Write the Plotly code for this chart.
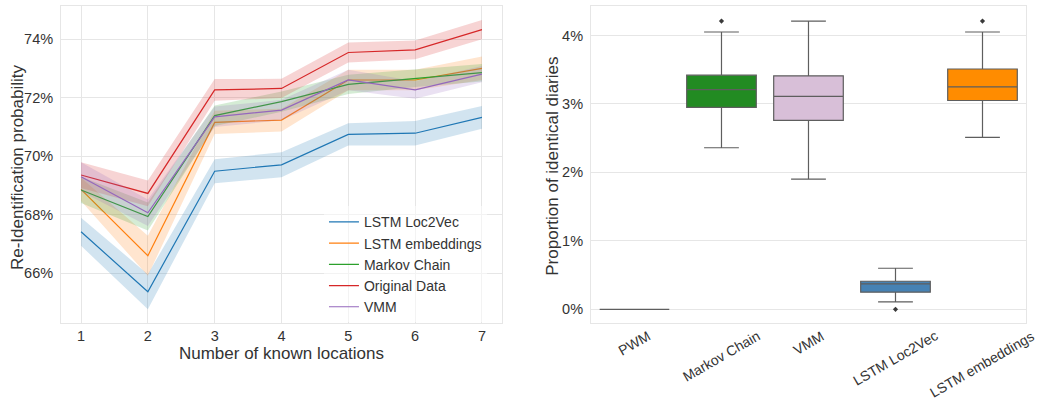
import plotly.graph_objects as go

# ---- left panel: re-identification probability vs. number of known locations ----
known_locations = [1, 2, 3, 4, 5, 6, 7]

series_names = ["LSTM Loc2Vec", "LSTM embeddings", "Markov Chain", "Original Data", "VMM"]
series_colors = ["#1f77b4", "#ff7f0e", "#2ca02c", "#d62728", "#9467bd"]
series_fills = ["rgba(31,119,180,0.2)", "rgba(255,127,14,0.2)", "rgba(44,160,44,0.2)",
                "rgba(214,39,40,0.2)", "rgba(148,103,189,0.2)"]

# mean re-identification probability (%)
loc2vec_mean = [67.42, 65.37, 69.49, 69.71, 70.75, 70.79, 71.33]
embeddings_mean = [68.87, 66.60, 71.16, 71.24, 72.61, 72.61, 73.01]
markov_mean = [68.85, 67.94, 71.39, 71.87, 72.46, 72.67, 72.86]
original_mean = [69.36, 68.73, 72.27, 72.32, 73.55, 73.64, 74.33]
vmm_mean = [69.30, 68.07, 71.35, 71.58, 72.61, 72.27, 72.81]

# half-width of the confidence band (%)
loc2vec_ci = [0.48, 0.60, 0.41, 0.43, 0.38, 0.42, 0.39]
embeddings_ci = [0.40, 0.68, 0.40, 0.39, 0.35, 0.35, 0.40]
markov_ci = [0.45, 0.48, 0.35, 0.35, 0.33, 0.30, 0.30]
original_ci = [0.44, 0.44, 0.37, 0.33, 0.34, 0.32, 0.33]
vmm_ci = [0.50, 0.45, 0.35, 0.35, 0.35, 0.30, 0.28]

series_means = [loc2vec_mean, embeddings_mean, markov_mean, original_mean, vmm_mean]
series_cis = [loc2vec_ci, embeddings_ci, markov_ci, original_ci, vmm_ci]

left_yticks = [66, 68, 70, 72, 74]
left_yticklabels = ["66%", "68%", "70%", "72%", "74%"]

# ---- right panel: proportion of identical diaries per generator ----
generators = ["PWM", "Markov Chain", "VMM", "LSTM Loc2Vec", "LSTM embeddings"]
box_colors = ["#808080", "#228B22", "#D8BFD8", "#4682B4", "#FF8C00"]
box_q1 = [0.0, 2.95, 2.76, 0.25, 3.05]
box_median = [0.0, 3.21, 3.11, 0.37, 3.25]
box_q3 = [0.0, 3.42, 3.41, 0.41, 3.51]
box_low = [0.0, 2.36, 1.90, 0.11, 2.51]
box_high = [0.0, 4.05, 4.21, 0.60, 4.05]
outlier_groups = ["Markov Chain", "LSTM Loc2Vec", "LSTM embeddings"]
outlier_values = [4.21, 0.0, 4.21]

right_yticks = [0, 1, 2, 3, 4]
right_yticklabels = ["0%", "1%", "2%", "3%", "4%"]

FONT = "Liberation Sans, Arial, sans-serif"
TEXT = "#333333"
GRID = "#e6e6e6"

fig = go.Figure()

for name, color, fill, mean, ci in zip(series_names, series_colors, series_fills,
                                       series_means, series_cis):
    upper = [m + c for m, c in zip(mean, ci)]
    lower = [m - c for m, c in zip(mean, ci)]
    fig.add_trace(go.Scatter(x=known_locations, y=upper, mode="lines",
                             line=dict(width=0), showlegend=False,
                             hoverinfo="skip", xaxis="x", yaxis="y"))
    fig.add_trace(go.Scatter(x=known_locations, y=lower, mode="lines",
                             line=dict(width=0), fill="tonexty", fillcolor=fill,
                             showlegend=False, hoverinfo="skip", xaxis="x", yaxis="y"))
    fig.add_trace(go.Scatter(x=known_locations, y=mean, mode="lines", name=name,
                             line=dict(color=color, width=1.2), xaxis="x", yaxis="y"))

for g, c, q1, med, q3, lo, hi in zip(generators, box_colors, box_q1, box_median,
                                     box_q3, box_low, box_high):
    fig.add_trace(go.Box(x=[g], q1=[q1], median=[med], q3=[q3],
                         lowerfence=[lo], upperfence=[hi],
                         fillcolor=c, line=dict(color="#5e5e5e", width=1.2),
                         width=0.8, whiskerwidth=0.5, boxpoints=False,
                         showlegend=False, xaxis="x2", yaxis="y2"))

fig.add_trace(go.Scatter(x=outlier_groups, y=outlier_values, mode="markers",
                         marker=dict(symbol="diamond", size=4, color="#3a3a3a"),
                         showlegend=False, xaxis="x2", yaxis="y2"))

# rotated, centred category labels under the box plot
for g in generators:
    fig.add_annotation(x=g, y=0, xref="x2", yref="paper", text=g, showarrow=False,
                       textangle=-30, xanchor="center", yanchor="top", yshift=-3,
                       borderpad=0,
                       font=dict(family=FONT, size=14, color=TEXT))

# vertical axis titles
fig.add_annotation(x=-0.0456, y=0.492, xref="paper", yref="paper",
                   text="Re-Identification probability", showarrow=False,
                   textangle=-90, xanchor="center", yanchor="middle",
                   font=dict(family=FONT, size=17, color=TEXT))
fig.add_annotation(x=0.5098, y=0.496, xref="paper", yref="paper",
                   text="Proportion of identical diaries", showarrow=False,
                   textangle=-90, xanchor="center", yanchor="middle",
                   font=dict(family=FONT, size=17, color=TEXT))

axis_common = dict(showline=True, linecolor=GRID, linewidth=1, mirror=True,
                   gridcolor=GRID, gridwidth=1, zeroline=False, ticks="",
                   tickfont=dict(family=FONT, size=14.5, color=TEXT))

fig.update_layout(
    width=1050, height=401,
    margin=dict(l=61, r=24, t=6, b=78),
    paper_bgcolor="white", plot_bgcolor="white",
    boxmode="overlay",
    font=dict(family=FONT, color=TEXT),
    xaxis=dict(domain=[0, 0.457], range=[0.7, 7.3], tickvals=known_locations,
               showgrid=True,
               title=dict(text="Number of known locations", standoff=0,
                          font=dict(family=FONT, size=17, color=TEXT)),
               **axis_common),
    yaxis=dict(domain=[0, 1], range=[64.3, 75.14], tickvals=left_yticks,
               ticktext=left_yticklabels, showgrid=True, ticklabelstandoff=4,
               **axis_common),
    xaxis2=dict(domain=[0.5492, 1.0], type="category", range=[-0.5, 4.5],
                categoryorder="array", categoryarray=generators,
                showgrid=False, showticklabels=False, **axis_common),
    yaxis2=dict(domain=[0, 1], anchor="x2", range=[-0.2, 4.43], tickvals=right_yticks,
                ticktext=right_yticklabels, showgrid=True, ticklabelstandoff=4,
                **axis_common),
    legend=dict(x=0.2725, y=0.368, xanchor="left", yanchor="top",
                traceorder="normal",
                bgcolor="rgba(255,255,255,0.5)", borderwidth=0,
                font=dict(family=FONT, size=14, color=TEXT)),
)

fig.write_html("out.html")
